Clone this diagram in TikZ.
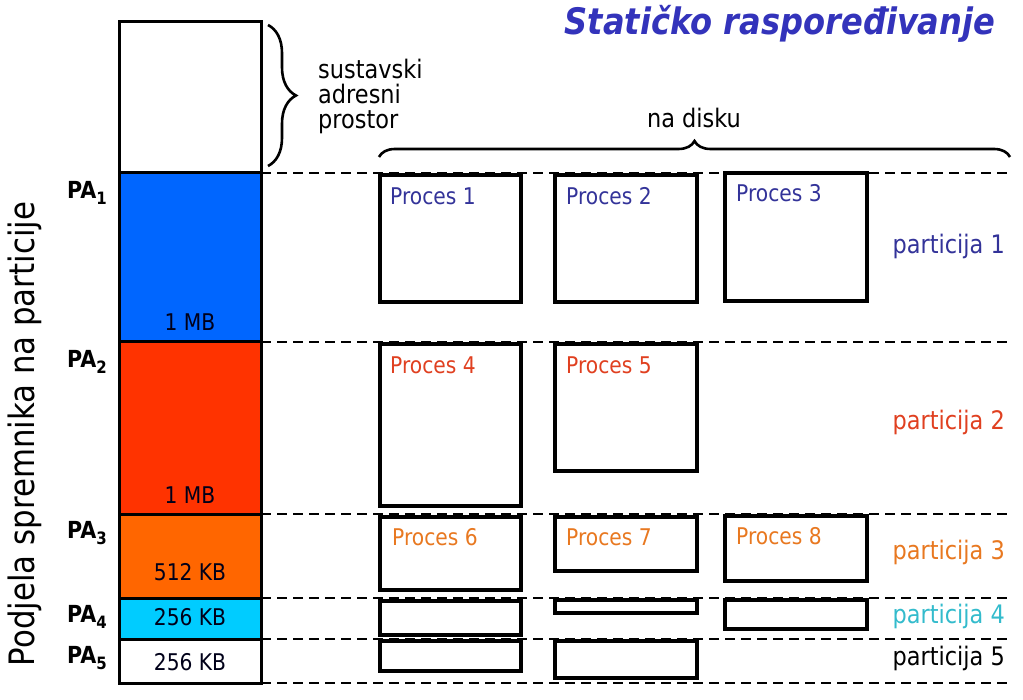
\documentclass[tikz,border=0pt]{standalone}
\usepackage{fontspec}
\setmainfont{DejaVu Sans}[FakeStretch=0.88]
\usetikzlibrary{decorations.pathreplacing}
\definecolor{memblue}{RGB}{0,102,255}
\definecolor{memred}{RGB}{255,51,0}
\definecolor{memorange}{RGB}{255,102,0}
\definecolor{memcyan}{RGB}{0,204,255}
\definecolor{tblue}{RGB}{51,51,153}
\definecolor{tred}{RGB}{224,64,32}
\definecolor{torange}{RGB}{232,120,32}
\definecolor{tcyan}{RGB}{51,187,204}
\definecolor{ttitle}{RGB}{51,51,187}
\tikzset{
  seg/.style={draw=black, line width=3pt, anchor=north west, inner sep=0pt, outer sep=0pt},
  pbox/.style={draw=black, line width=3.4pt, anchor=north west, inner sep=0pt, outer sep=0pt},
  sepline/.style={draw=black, line width=2.4pt, dash pattern=on 10pt off 6pt},
  plabel/.style={anchor=west, inner sep=0pt, font=\fontsize{23}{27}\selectfont},
  sizelabel/.style={inner sep=0pt, font=\fontsize{23}{27}\selectfont, text=black!90!blue},
  partlabel/.style={anchor=east, inner sep=0pt, font=\fontsize{25.5}{30}\selectfont},
  palabel/.style={anchor=west, inner sep=0pt, font=\bfseries\fontsize{23.5}{26}\selectfont},
  sidelabel/.style={inner sep=0pt, font=\fontsize{25.5}{25}\selectfont},
  bracestyle/.style={draw=black, line width=2.6pt, decorate}
}
\newcommand{\pasub}[1]{PA\raisebox{-0.45ex}{\fontsize{17}{17}\selectfont #1}}
\begin{document}
\begin{tikzpicture}[x=1pt,y=-1pt]
\useasboundingbox (0,0) rectangle (1023,700);
% memory column
\node[seg, fill=white, minimum width=142, minimum height=151] (sys) at (119,22) {};
\node[seg, fill=memblue, minimum width=142, minimum height=169] (m1) at (119,173) {};
\node[seg, fill=memred, minimum width=142, minimum height=172] (m2) at (119,342) {};
\node[seg, fill=memorange, minimum width=142, minimum height=84] (m3) at (119,514) {};
\node[seg, fill=memcyan, minimum width=142, minimum height=41] (m4) at (119,598) {};
\node[seg, fill=white, minimum width=142, minimum height=44] (m5) at (119,639) {};
% size labels
\node[sizelabel] (s1) at (190,322) {1 MB};
\node[sizelabel] (s2) at (190,495) {1 MB};
\node[sizelabel] (s3) at (190,572) {512 KB};
\node[sizelabel] (s4) at (190,617) {256 KB};
\node[sizelabel] (s5) at (190,662) {256 KB};
% PA labels
\node[palabel] (pa1) at (67,193) {\pasub{1}};
\node[palabel] (pa2) at (67,362) {\pasub{2}};
\node[palabel] (pa3) at (67,533) {\pasub{3}};
\node[palabel] (pa4) at (67,617) {\pasub{4}};
\node[palabel] (pa5) at (67,658) {\pasub{5}};
% rotated label
\node[rotate=90, inner sep=0pt, font=\fontsize{35}{40}\selectfont] (vlab) at (25,434) {Podjela spremnika na particije};
% separator lines
\coordinate (d0a) at (261,173); \coordinate (d0b) at (1010,173);
\coordinate (d1a) at (261,342); \coordinate (d1b) at (1010,342);
\coordinate (d2a) at (261,514); \coordinate (d2b) at (1010,514);
\coordinate (d3a) at (261,598); \coordinate (d3b) at (1010,598);
\coordinate (d4a) at (261,639); \coordinate (d4b) at (1010,639);
\coordinate (d5a) at (261,683); \coordinate (d5b) at (1010,683);
\foreach \i in {0,...,5} { \draw[sepline] (d\i a) -- (d\i b); }
% braces
\coordinate (bv1) at (268,25); \coordinate (bv2) at (268,166);
\draw[bracestyle, decoration={brace, amplitude=28pt, aspect=0.5}] (bv1) -- (bv2);
\node[sidelabel, anchor=west, align=left] (sysl) at (318,96) {sustavski\\adresni\\prostor};
\coordinate (bh1) at (379,157); \coordinate (bh2) at (1010,157);
\draw[bracestyle, decoration={brace, amplitude=16pt, aspect=0.5}] (bh1) -- (bh2);
\node[sidelabel] (disk) at (694,118) {na disku};
% title
\node[inner sep=0pt, text=ttitle, font=\bfseries\itshape\fontsize{36.5}{40}\selectfont] (title) at (780,24) {Statičko raspoređivanje};
% process boxes
\node[pbox, minimum width=141, minimum height=127] (p1) at (380,175) {};
\node[pbox, minimum width=142, minimum height=127] (p2) at (555,175) {};
\node[pbox, minimum width=142, minimum height=128] (p3) at (725,173) {};
\node[pbox, minimum width=141, minimum height=162] (p4) at (380,344) {};
\node[pbox, minimum width=142, minimum height=127] (p5) at (555,344) {};
\node[pbox, minimum width=141, minimum height=73] (p6) at (380,517) {};
\node[pbox, minimum width=142, minimum height=54] (p7) at (555,517) {};
\node[pbox, minimum width=142, minimum height=65] (p8) at (725,516) {};
\node[pbox, minimum width=141, minimum height=34] (q1) at (380,601) {};
\node[pbox, minimum width=142, minimum height=13] (q2) at (555,600) {};
\node[pbox, minimum width=142, minimum height=29] (q3) at (725,600) {};
\node[pbox, minimum width=141, minimum height=30] (r1) at (380,641) {};
\node[pbox, minimum width=142, minimum height=37] (r2) at (555,641) {};
% process labels
\node[plabel, text=tblue] (l1) at (390,196) {Proces 1};
\node[plabel, text=tblue] (l2) at (566,196) {Proces 2};
\node[plabel, text=tblue] (l3) at (736,193) {Proces 3};
\node[plabel, text=tred] (l4) at (390,365) {Proces 4};
\node[plabel, text=tred] (l5) at (566,365) {Proces 5};
\node[plabel, text=torange] (l6) at (392,537) {Proces 6};
\node[plabel, text=torange] (l7) at (566,537) {Proces 7};
\node[plabel, text=torange] (l8) at (736,536) {Proces 8};
% partition labels
\node[partlabel, text=tblue] (pt1) at (1005,246) {particija 1};
\node[partlabel, text=tred] (pt2) at (1005,422) {particija 2};
\node[partlabel, text=torange] (pt3) at (1005,552) {particija 3};
\node[partlabel, text=tcyan] (pt4) at (1005,616) {particija 4};
\node[partlabel, text=black] (pt5) at (1005,658) {particija 5};
\end{tikzpicture}
\end{document}
